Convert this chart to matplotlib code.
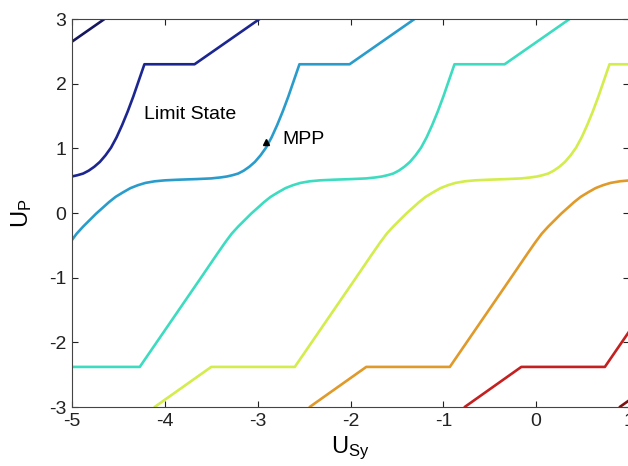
import matplotlib
matplotlib.use('Agg')
import matplotlib.pyplot as plt

plt.rcParams['font.family'] = ['Liberation Sans', 'DejaVu Sans']
plt.rcParams['mathtext.fontset'] = 'custom'
plt.rcParams['mathtext.rm'] = 'Liberation Sans'
plt.rcParams['mathtext.it'] = 'Liberation Sans:italic'
plt.rcParams['axes.unicode_minus'] = False

# Shape of one limit-state contour, along U_Sy offset
profile_u = [-4.90, -4.29, -3.39, -2.74, -2.55, -2.47, -2.40, -2.33, -2.26, -2.19,
             -2.12, -2.05, -1.98, -1.90, -1.82, -1.74, -1.66, -1.56, -1.45, -1.30,
             -1.10, -0.95, -0.85, -0.78, -0.72, -0.66, -0.60, -0.54, -0.48, -0.42,
             -0.36, -0.30, -0.24, -0.18, -0.12, -0.06, 0.00, 0.54, 1.26]
profile_y = [-3.00, -2.38, -2.38, -1.02, -0.62, -0.455, -0.32, -0.21, -0.11, -0.01,
             0.08, 0.17, 0.25, 0.32, 0.385, 0.43, 0.465, 0.49, 0.505, 0.515,
             0.525, 0.535, 0.55, 0.565, 0.585, 0.61, 0.655, 0.715, 0.79, 0.89,
             1.01, 1.17, 1.36, 1.57, 1.80, 2.05, 2.30, 2.30, 3.02]

# Horizontal position of each contour level
curve_shift = [-5.89, -4.22, -2.55, -0.88, 0.79, 2.46, 4.13, 5.80]
curve_colors = ['#161660', '#1c2690', '#2a9ccc', '#3ddcc0', '#d4ec4c', '#e09a2a', '#c42020', '#7a1010']

xticks = [-5, -4, -3, -2, -1, 0, 1]
yticks = [-3, -2, -1, 0, 1, 2, 3]

mpp_x, mpp_y = -2.91, 1.10

fig = plt.figure(figsize=(6.28, 4.66), dpi=100)
ax = fig.add_axes([72 / 628, 59 / 466, 557 / 628, 388 / 466])

for c, col in zip(curve_shift, curve_colors):
    ax.plot([u + c for u in profile_u], profile_y, color=col, lw=1.9,
            solid_joinstyle='round', solid_capstyle='round')

ax.plot([mpp_x], [mpp_y], marker='^', color='black', markersize=4.5, linestyle='none')
ax.text(mpp_x + 0.18, mpp_y + 0.03, 'MPP', fontsize=14, va='center', ha='left')
ax.text(-4.22, 1.52, 'Limit State', fontsize=14, va='center', ha='left')

ax.set_xlim(-5, 1)
ax.set_ylim(-3, 3)
ax.set_xticks(xticks)
ax.set_yticks(yticks)
ax.set_xticklabels([str(t) for t in xticks])
ax.set_yticklabels([str(t) for t in yticks])
ax.tick_params(direction='in', length=4, width=0.8, top=True, right=True,
               labelsize=14, colors='#222222', pad=4)
for s in ax.spines.values():
    s.set_color('#444444')
    s.set_linewidth(0.8)

ax.set_xlabel(r'$\mathregular{U_{Sy}}$', fontsize=17)
ax.set_ylabel(r'$\mathregular{U_{P}}$', fontsize=17)
ax.xaxis.set_label_coords(0.5, -0.072)
ax.yaxis.set_label_coords(-0.068, 0.5)

fig.savefig('out.png', dpi=100)
